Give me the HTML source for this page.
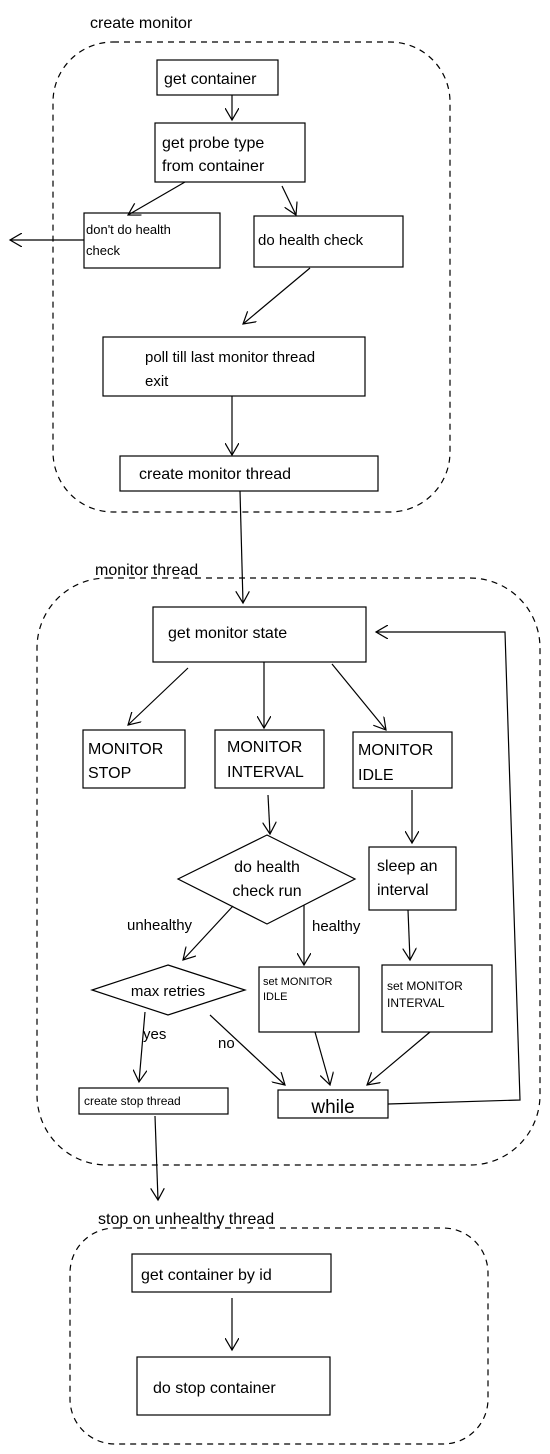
<!DOCTYPE html>
<html><head><meta charset="utf-8"><style>
html,body{margin:0;padding:0;background:#fff;}
svg{display:block}
text{font-family:"Liberation Sans",sans-serif;fill:#000}
</style></head><body>
<svg width="550" height="1454" viewBox="0 0 550 1454" xmlns="http://www.w3.org/2000/svg">
<defs>
<marker id="a" markerWidth="14" markerHeight="14" refX="12" refY="7" orient="auto" markerUnits="userSpaceOnUse">
<path d="M0,0 L12,7 L0,14" fill="none" stroke="#000" stroke-width="1.2"/>
</marker>
</defs>
<g fill="none" stroke="#000" stroke-width="1.2">
<!-- dashed groups -->
<rect x="53" y="42" width="397" height="470" rx="60" stroke-dasharray="6,5"/>
<rect x="37" y="578" width="503" height="587" rx="70" stroke-dasharray="6,5"/>
<rect x="70" y="1228" width="418" height="216" rx="45" stroke-dasharray="6,5"/>
<!-- boxes -->
<rect x="157" y="60" width="121" height="35"/>
<rect x="155" y="123" width="150" height="59"/>
<rect x="84" y="213" width="136" height="55"/>
<rect x="254" y="216" width="149" height="51"/>
<rect x="103" y="337" width="262" height="59"/>
<rect x="120" y="456" width="258" height="35"/>
<rect x="153" y="607" width="213" height="55"/>
<rect x="83" y="730" width="102" height="58"/>
<rect x="215" y="730" width="109" height="58"/>
<rect x="353" y="732" width="99" height="56"/>
<rect x="369" y="847" width="87" height="63"/>
<polygon points="267,835 355,879 267,924 178,879"/>
<polygon points="168,965 245,990 168,1015 92,990"/>
<rect x="259" y="967" width="100" height="65"/>
<rect x="382" y="965" width="110" height="67"/>
<rect x="79" y="1088" width="149" height="26"/>
<rect x="278" y="1090" width="110" height="28"/>
<rect x="132" y="1254" width="199" height="38"/>
<rect x="137" y="1357" width="193" height="58"/>
<!-- arrows -->
<g marker-end="url(#a)">
<line x1="232" y1="95" x2="232" y2="120"/>
<line x1="185" y1="182" x2="128" y2="215"/>
<line x1="282" y1="186" x2="296" y2="215"/>
<line x1="84" y1="240" x2="10" y2="240"/>
<line x1="310" y1="268" x2="243" y2="324"/>
<line x1="232" y1="396" x2="232" y2="455"/>
<line x1="240" y1="491" x2="243" y2="603"/>
<line x1="188" y1="668" x2="128" y2="725"/>
<line x1="264" y1="662" x2="264" y2="728"/>
<line x1="332" y1="664" x2="386" y2="730"/>
<line x1="268" y1="795" x2="270" y2="834"/>
<line x1="412" y1="790" x2="412" y2="843"/>
<line x1="233" y1="906" x2="183" y2="960"/>
<line x1="304" y1="905" x2="304" y2="965"/>
<line x1="408" y1="910" x2="410" y2="960"/>
<line x1="145" y1="1012" x2="139" y2="1082"/>
<line x1="210" y1="1015" x2="285" y2="1085"/>
<line x1="315" y1="1032" x2="330" y2="1085"/>
<line x1="430" y1="1032" x2="367" y2="1085"/>
<polyline points="388,1104 520,1100 505,632 376,632"/>
<line x1="155" y1="1116" x2="158" y2="1200"/>
<line x1="232" y1="1298" x2="232" y2="1350"/>
</g>
</g>
<g font-size="16">
<text x="90" y="28">create monitor</text>
<text x="164" y="84">get container</text>
<text x="162" y="148">get probe type</text>
<text x="162" y="171">from container</text>
<text x="86" y="234" font-size="13">don't do health</text>
<text x="86" y="255" font-size="13">check</text>
<text x="258" y="245" font-size="15">do health check</text>
<text x="145" y="362" font-size="15">poll till last monitor thread</text>
<text x="145" y="386" font-size="15">exit</text>
<text x="139" y="479">create monitor thread</text>
<text x="95" y="575">monitor thread</text>
<text x="168" y="638">get monitor state</text>
<text x="88" y="754">MONITOR</text>
<text x="88" y="778">STOP</text>
<text x="227" y="752">MONITOR</text>
<text x="227" y="777">INTERVAL</text>
<text x="358" y="755">MONITOR</text>
<text x="358" y="780">IDLE</text>
<text x="377" y="871">sleep an</text>
<text x="377" y="895">interval</text>
<text x="267" y="872" text-anchor="middle">do health</text>
<text x="267" y="896" text-anchor="middle">check run</text>
<text x="127" y="930" font-size="15">unhealthy</text>
<text x="312" y="931" font-size="15">healthy</text>
<text x="168" y="996" text-anchor="middle" font-size="15">max retries</text>
<text x="263" y="985" font-size="11">set MONITOR</text>
<text x="263" y="1000" font-size="11">IDLE</text>
<text x="387" y="990" font-size="12">set MONITOR</text>
<text x="387" y="1007" font-size="12">INTERVAL</text>
<text x="143" y="1039" font-size="15">yes</text>
<text x="218" y="1048" font-size="15">no</text>
<text x="84" y="1105" font-size="12">create stop thread</text>
<text x="333" y="1113" text-anchor="middle" font-size="19">while</text>
<text x="98" y="1224">stop on unhealthy thread</text>
<text x="141" y="1280">get container by id</text>
<text x="153" y="1393">do stop container</text>
</g>
</svg>
</body></html>
